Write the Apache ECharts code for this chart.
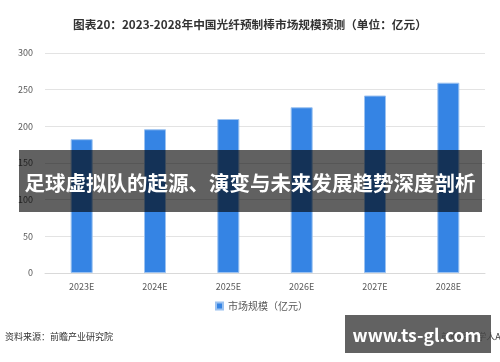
<!DOCTYPE html>
<html><head><meta charset="utf-8">
<script src="https://cdn.jsdelivr.net/npm/echarts@6/dist/echarts.min.js"></script>
<style>html,body{margin:0;padding:0;background:#fff}#c{width:500px;height:362px}</style>
</head><body><div id="c"></div>
<script>
var categories = ['2023E','2024E','2025E','2026E','2027E','2028E'];
var marketSize = [182.5, 196, 210, 226, 242, 259.5];
var yTicks = [0, 50, 100, 150, 200, 250, 300];
var titleText = '图表20：2023-2028年中国光纤预制棒市场规模预测（单位：亿元）';
var seriesName = '市场规模（亿元）';
var sourceText = '资料来源：前瞻产业研究院';
var bannerText = '足球虚拟队的起源、演变与未来发展趋势深度剖析';
var siteText = 'www.ts-gl.com';

var chart = echarts.init(document.getElementById('c'), null, {renderer:'canvas'});
var font = '"Noto Sans CJK SC", "Noto Sans", sans-serif';
chart.setOption({
  animation: false,
  backgroundColor: '#fff',
  textStyle: {fontFamily: font},
  title: {
    text: titleText, left: 'center', top: 14,
    textStyle: {fontSize: 11.7, fontWeight: 'bold', color: '#333', fontFamily: font}
  },
  grid: {left: 45, right: 15, top: 53, bottom: 89, containLabel: false},
  legend: {
    data: [seriesName], bottom: 46, left: 210,
    itemWidth: 7, itemHeight: 7, itemGap: 4, icon: 'rect',
    textStyle: {fontSize: 10, color: '#595959', fontFamily: font}
  },
  xAxis: {
    type: 'category', data: categories,
    axisLine: {lineStyle: {color: '#d9d9d9', width: 1}},
    axisTick: {show: false},
    axisLabel: {fontSize: 9, color: '#595959', margin: 9, fontFamily: font}
  },
  yAxis: {
    type: 'value', min: yTicks[0], max: yTicks[yTicks.length-1], interval: yTicks[1]-yTicks[0],
    axisLine: {show: false}, axisTick: {show: false},
    splitLine: {lineStyle: {color: '#e3e3e3', width: 1}},
    axisLabel: {fontSize: 9, color: '#595959', margin: 12, fontFamily: font}
  },
  series: [{
    name: seriesName, type: 'bar', data: marketSize, barWidth: 22,
    itemStyle: {color: '#3584e4', borderColor: '#9cc2f0', borderWidth: 1}
  }],
  graphic: [
    {type: 'text', left: 5, top: 332, style: {text: sourceText, fill: '#333', font: '9px ' + font}},
    {type: 'text', right: -12, top: 332, style: {text: '前瞻经济学人APP', fill: '#333', font: '9px ' + font}},
    {type: 'rect', shape: {x: 19, y: 150, width: 463, height: 62}, style: {fill: 'rgba(0,0,0,0.62)'}, z: 100},
    {type: 'text', x: 250, y: 183, z: 101, style: {text: bannerText, fill: '#fff', align: 'center', verticalAlign: 'middle', font: 'bold 20.5px ' + font}},
    {type: 'rect', shape: {x: 345, y: 315, width: 146, height: 38}, style: {fill: 'rgba(70,70,70,0.85)'}, z: 100},
    {type: 'text', x: 417, y: 335, z: 101, style: {text: siteText, fill: '#fff', align: 'center', verticalAlign: 'middle', font: 'bold 17.5px ' + font}}
  ]
});
</script></body></html>
